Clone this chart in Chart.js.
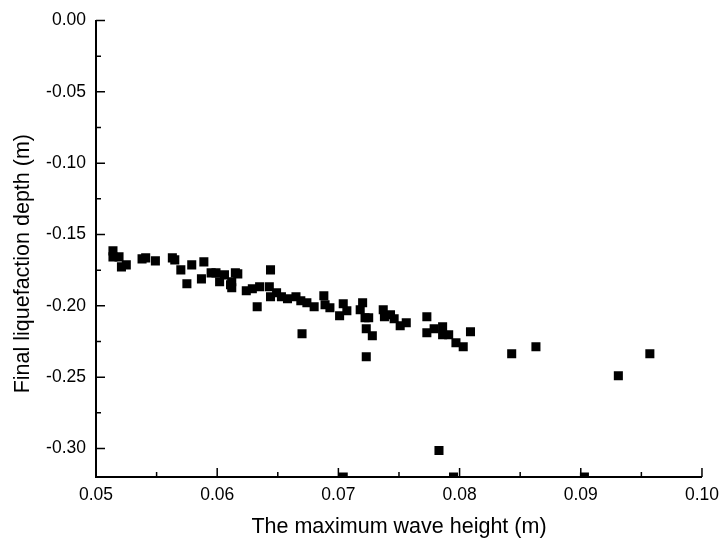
<!DOCTYPE html>
<html>
<head>
<meta charset="utf-8">
<script src="https://cdn.jsdelivr.net/npm/chart.js@4"></script>
<style>
  body { margin: 0; background: #fff; }
  #wrap { width: 727px; height: 540px; }
</style>
</head>
<body>
<div id="wrap"><canvas id="chart"></canvas></div>
<script>
// maximum wave height (m)
var waveHeight = [
  0.0514, 0.0514, 0.0519, 0.0521, 0.0525, 0.0538, 0.0541, 0.0549, 0.0563, 0.0565,
  0.0570, 0.0579, 0.0575, 0.0589, 0.0587, 0.0595, 0.0599, 0.0602, 0.0606, 0.0611,
  0.0615, 0.0617, 0.0612, 0.0612, 0.0644, 0.0624, 0.0629, 0.0635, 0.0633, 0.0643,
  0.0644, 0.0649, 0.0653, 0.0658, 0.0665, 0.0669, 0.0674, 0.0680, 0.0688, 0.0689,
  0.0693, 0.0701, 0.0704, 0.0707, 0.0670, 0.0718, 0.0720, 0.0722, 0.0723, 0.0723,
  0.0725, 0.0728, 0.0737, 0.0738, 0.0743, 0.0746, 0.0751, 0.0756, 0.0773, 0.0773,
  0.0779, 0.0786, 0.0786, 0.0791, 0.0797, 0.0803, 0.0809, 0.0843, 0.0863, 0.0931,
  0.0957, 0.0783, 0.0704, 0.0795, 0.0903
];
// final liquefaction depth (m)
var liqDepth = [
  -0.1615, -0.1657, -0.1657, -0.1727, -0.1713, -0.1671, -0.1664, -0.1685, -0.1664, -0.1678,
  -0.1748, -0.1713, -0.1846, -0.1692, -0.1811, -0.1769, -0.1769, -0.1832, -0.1783, -0.1853,
  -0.1769, -0.1776, -0.1832, -0.1874, -0.1748, -0.1895, -0.1881, -0.1867, -0.2007, -0.1867,
  -0.1937, -0.1909, -0.1937, -0.1951, -0.1937, -0.1965, -0.1979, -0.2007, -0.1930, -0.1993,
  -0.2014, -0.2070, -0.1986, -0.2035, -0.2196, -0.2028, -0.1979, -0.2084, -0.2161, -0.2357,
  -0.2084, -0.2210, -0.2028, -0.2077, -0.2063, -0.2091, -0.2140, -0.2119, -0.2077, -0.2189,
  -0.2161, -0.2147, -0.2203, -0.2203, -0.2259, -0.2287, -0.2182, -0.2336, -0.2287, -0.2490,
  -0.2336, -0.3014, -0.3200, -0.3200, -0.3200
];
var xTicks = [0.05, 0.06, 0.07, 0.08, 0.09, 0.10];
var yTicks = [0.00, -0.05, -0.10, -0.15, -0.20, -0.25, -0.30];
var xMinor = [0.055, 0.065, 0.075, 0.085, 0.095];
var yMinor = [-0.025, -0.075, -0.125, -0.175, -0.225, -0.275];

var points = waveHeight.map(function (v, i) { return { x: v, y: liqDepth[i] }; });

// tick marks point into the plot area, so draw them here
var innerTicks = {
  id: 'innerTicks',
  afterDraw: function (chart) {
    var ctx = chart.ctx, sx = chart.scales.x, sy = chart.scales.y;
    var left = chart.chartArea.left, bottom = chart.chartArea.bottom;
    ctx.save();
    ctx.strokeStyle = '#000';
    ctx.lineWidth = 1.5;
    ctx.beginPath();
    xTicks.forEach(function (v) { var p = sx.getPixelForValue(v); ctx.moveTo(p, bottom); ctx.lineTo(p, bottom - 9); });
    xMinor.forEach(function (v) { var p = sx.getPixelForValue(v); ctx.moveTo(p, bottom); ctx.lineTo(p, bottom - 5); });
    yTicks.forEach(function (v) { var p = sy.getPixelForValue(v); ctx.moveTo(left, p); ctx.lineTo(left + 9, p); });
    yMinor.forEach(function (v) { var p = sy.getPixelForValue(v); ctx.moveTo(left, p); ctx.lineTo(left + 5, p); });
    ctx.stroke();
    ctx.restore();
  }
};

var ctx = document.getElementById('chart');
var myChart = new Chart(ctx, {
  type: 'scatter',
  data: {
    datasets: [{
      data: points,
      pointStyle: 'rect',
      pointRadius: 6.4,
      pointHoverRadius: 6.4,
      backgroundColor: '#000',
      borderColor: '#000',
      borderWidth: 0,
      clip: 0
    }]
  },
  options: {
    responsive: true,
    maintainAspectRatio: false,
    animation: false,
    layout: { padding: { left: 0, right: 20, top: 20, bottom: 0 } },
    plugins: { legend: { display: false }, tooltip: { enabled: false } },
    scales: {
      x: {
        type: 'linear',
        min: 0.05,
        max: 0.10,
        afterBuildTicks: function (s) { s.ticks = xTicks.map(function (v) { return { value: v }; }); },
        afterFit: function (s) { s.height = 63; },
        grid: { display: false, drawTicks: false },
        border: { display: true, color: '#000', width: 2 },
        ticks: {
          color: '#000',
          padding: 8,
          maxRotation: 0,
          font: { family: 'Liberation Sans', size: 17.5 },
          callback: function (v) { return v.toFixed(2); }
        },
        title: {
          display: true,
          text: 'The maximum wave height (m)',
          color: '#000',
          padding: { top: 6, bottom: 0 },
          font: { family: 'Liberation Sans', size: 21.5 }
        }
      },
      y: {
        type: 'linear',
        min: -0.32,
        max: 0.00,
        afterBuildTicks: function (s) { s.ticks = yTicks.map(function (v) { return { value: v }; }); },
        afterFit: function (s) { s.width = 96; },
        grid: { display: false, drawTicks: false },
        border: { display: true, color: '#000', width: 2 },
        ticks: {
          color: '#000',
          padding: 10,
          font: { family: 'Liberation Sans', size: 17.5 },
          callback: function (v) { return v.toFixed(2); }
        },
        title: {
          display: true,
          text: 'Final liquefaction depth (m)     ',
          color: '#000',
          padding: { top: 10, bottom: 0 },
          font: { family: 'Liberation Sans', size: 21.5 }
        }
      }
    }
  },
  plugins: [innerTicks]
});
</script>
</body>
</html>
